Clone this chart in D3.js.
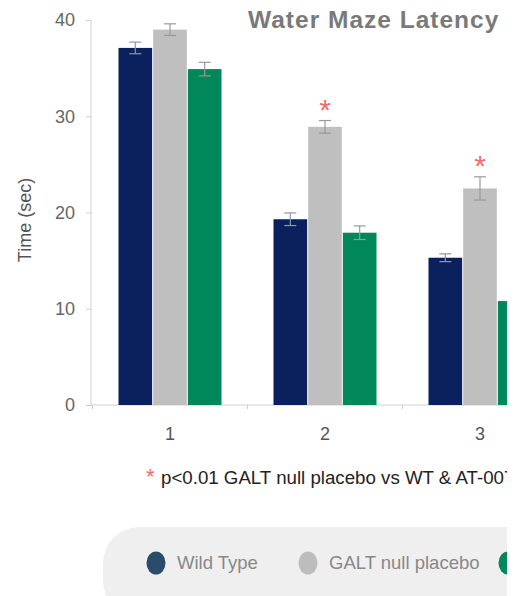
<!DOCTYPE html>
<html>
<head>
<meta charset="utf-8">
<script src="https://cdn.jsdelivr.net/npm/d3@7"></script>
<style>
  body { margin: 0; background: #fff; }
  text { font-family: Arial, "Liberation Sans", sans-serif; }
</style>
</head>
<body>
<div id="chart"></div>
<script>
// data
const trials = ['1', '2', '3'];
const groups = ['Wild Type', 'GALT null placebo', 'AT-007'];
const means = [
  [37.1, 39.0, 34.9],
  [19.3, 28.9, 17.9],
  [15.3, 22.5, 10.8]
];
const errors = [
  [0.5, 0.5, 0.6],
  [0.55, 0.55, 0.6],
  [0.3, 1.1, 0.6]
];
const significant = [false, true, true];   // star over GALT null placebo
const yTicks = [0, 10, 20, 30, 40];

const barColours = ['#0b215e', '#bfbfbf', '#00885a'];
const legendColours = ['#2b4b6c', '#bdbdbd', '#00885a'];

const width = 518, height = 596;

const svg = d3.select('#chart').append('svg')
  .attr('width', width)
  .attr('height', height);

// the picture is cut off at the right
svg.append('clipPath').attr('id', 'crop')
  .append('rect').attr('x', 0).attr('y', 0).attr('width', 507).attr('height', height);

const g = svg.append('g').attr('clip-path', 'url(#crop)');

const x0 = d3.scaleBand()
  .domain(trials)
  .range([92.5, 92.5 + 155 * trials.length]);

const x1 = d3.scaleBand()
  .domain(groups)
  .range([26, 129])
  .paddingInner(0.03);

const y = d3.scaleLinear()
  .domain([0, 40])
  .range([405, 20]);

// y axis
const yAxis = g.append('g')
  .attr('transform', 'translate(91,0)')
  .call(d3.axisLeft(y).tickValues(yTicks).tickSize(5).tickPadding(11));
yAxis.select('.domain').attr('stroke', '#d0d0d0').attr('d', `M0,${y(40)}V${y(0)}`);
yAxis.selectAll('.tick line').attr('stroke', '#d0d0d0');
yAxis.selectAll('.tick text')
  .attr('fill', '#666')
  .style('font-size', '18px');

// x axis
const xAxis = g.append('g')
  .attr('transform', `translate(0,${y(0)})`)
  .call(d3.axisBottom(x0).tickSize(0).tickPadding(22));
xAxis.select('.domain').attr('stroke', '#d0d0d0').attr('d', 'M91,0H560');
xAxis.selectAll('.tick text')
  .attr('fill', '#555')
  .style('font-size', '18px');
// small ticks between groups
xAxis.selectAll('.sep')
  .data(trials)
  .join('line')
    .attr('class', 'sep')
    .attr('x1', d => x0(d))
    .attr('x2', d => x0(d))
    .attr('y1', 0)
    .attr('y2', 4)
    .attr('stroke', '#d0d0d0');

// axis title
g.append('text')
  .attr('transform', `translate(31,220) rotate(-90)`)
  .attr('text-anchor', 'middle')
  .attr('fill', '#555')
  .style('font-size', '18px')
  .text('Time (sec)');

// bars
const groupG = g.selectAll('.trial')
  .data(trials)
  .join('g')
    .attr('class', 'trial')
    .attr('transform', d => `translate(${x0(d)},0)`);

const rows = (d, i) => groups.map((s, j) => ({ s, v: means[i][j], e: errors[i][j], j }));

groupG.selectAll('rect')
  .data(rows)
  .join('rect')
    .attr('x', d => x1(d.s))
    .attr('y', d => y(d.v))
    .attr('width', x1.bandwidth())
    .attr('height', d => y(0) - y(d.v))
    .attr('fill', d => barColours[d.j]);

// error bars
const err = groupG.selectAll('.err')
  .data(rows)
  .join('g')
    .attr('class', 'err')
    .attr('stroke', d => d.j === 0 ? '#8a97ad' : '#999')
    .attr('stroke-width', 1.2);

const mid = d => x1(d.s) + x1.bandwidth() / 2;
err.append('line')
  .attr('x1', mid).attr('x2', mid)
  .attr('y1', d => y(d.v + d.e) - 1)
  .attr('y2', d => y(d.v - d.e) + 1);
err.append('line')
  .attr('x1', d => mid(d) - 6).attr('x2', d => mid(d) + 6)
  .attr('y1', d => y(d.v + d.e) - 1)
  .attr('y2', d => y(d.v + d.e) - 1);
err.append('line')
  .attr('x1', d => mid(d) - 6).attr('x2', d => mid(d) + 6)
  .attr('y1', d => y(d.v - d.e) + 1)
  .attr('y2', d => y(d.v - d.e) + 1);

// significance stars
groupG.filter((d, i) => significant[i])
  .append('text')
    .attr('x', x1(groups[1]) + x1.bandwidth() / 2)
    .attr('y', d => {
      const k = trials.indexOf(d);
      return y(means[k][1] + errors[k][1]) - 2;
    })
    .attr('text-anchor', 'middle')
    .attr('fill', '#f46b6b')
    .style('font-size', '30px')
    .text('*');

// title
g.append('text')
  .attr('x', 248)
  .attr('y', 28)
  .attr('fill', '#7a7a7a')
  .style('font-size', '24.5px')
  .style('font-weight', 'bold')
  .style('letter-spacing', '1px')
  .text('Water Maze Latency');

// footnote
g.append('text')
  .attr('x', 146)
  .attr('y', 484)
  .attr('fill', '#f46b6b')
  .style('font-size', '22px')
  .text('*');
g.append('text')
  .attr('x', 161)
  .attr('y', 484)
  .attr('fill', '#222')
  .style('font-size', '18.7px')
  .text('p<0.01 GALT null placebo vs WT & AT-007');

// legend
g.append('rect')
  .attr('x', 103)
  .attr('y', 527)
  .attr('width', 600)
  .attr('height', 90)
  .attr('rx', 36)
  .attr('fill', '#efefef');

const legendX = [156, 308, 508];
const leg = g.selectAll('.leg')
  .data(groups)
  .join('g')
    .attr('class', 'leg')
    .attr('transform', (d, i) => `translate(${legendX[i]},563)`);
leg.append('ellipse')
  .attr('rx', 9.5)
  .attr('ry', 11.5)
  .attr('fill', (d, i) => legendColours[i]);
leg.append('text')
  .attr('x', 21)
  .attr('y', 6)
  .attr('fill', '#888')
  .style('font-size', '18.5px')
  .text(d => d);
</script>
</body>
</html>
